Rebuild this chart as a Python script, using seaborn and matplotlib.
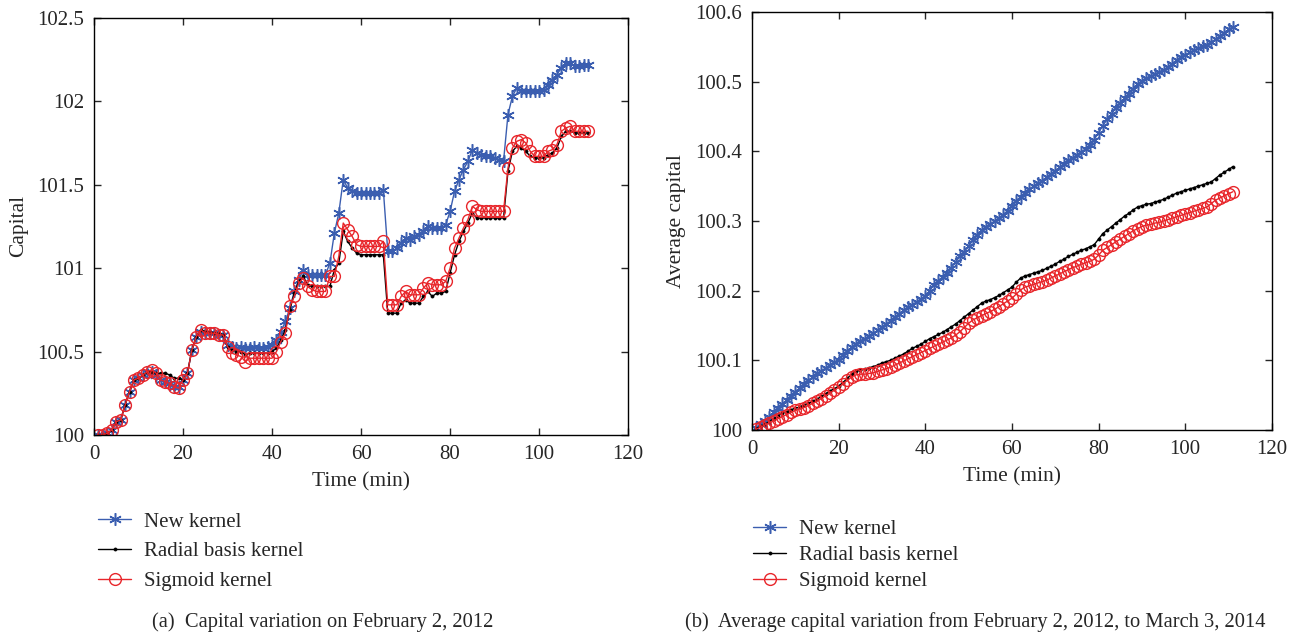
import numpy as np
import pandas as pd
import matplotlib
matplotlib.use("Agg")
import matplotlib.pyplot as plt
from matplotlib.ticker import FuncFormatter
import seaborn as sns

# ---- data -----------------------------------------------------------------
minutes = list(range(1, 112))

series_names = ["New kernel", "Radial basis kernel", "Sigmoid kernel"]

# (a) capital over one trading day
capital_new = [
    100.00, 100.00, 100.01, 100.03, 100.08, 100.09, 100.18, 100.26, 100.33, 100.34,
    100.36, 100.38, 100.38, 100.36, 100.33, 100.32, 100.31, 100.29, 100.29, 100.33,
    100.37, 100.51, 100.59, 100.62, 100.61, 100.61, 100.61, 100.60, 100.60, 100.54,
    100.53, 100.52, 100.53, 100.52, 100.52, 100.53, 100.52, 100.52, 100.53, 100.54,
    100.57, 100.62, 100.68, 100.76, 100.86, 100.93, 100.99, 100.96, 100.96, 100.96,
    100.96, 100.96, 101.03, 101.21, 101.33, 101.53, 101.48, 101.46, 101.45, 101.45,
    101.45, 101.45, 101.45, 101.45, 101.47, 101.10, 101.10, 101.12, 101.15, 101.18,
    101.17, 101.19, 101.20, 101.22, 101.25, 101.24, 101.24, 101.24, 101.26, 101.34,
    101.46, 101.53, 101.59, 101.64, 101.71, 101.69, 101.68, 101.67, 101.67, 101.66,
    101.65, 101.64, 101.92, 102.03, 102.08, 102.06, 102.06, 102.06, 102.06, 102.06,
    102.07, 102.10, 102.13, 102.16, 102.20, 102.23, 102.23, 102.21, 102.21, 102.22,
    102.22,
]
capital_rbf = [
    100.00, 100.00, 100.01, 100.03, 100.08, 100.09, 100.18, 100.26, 100.33, 100.34,
    100.36, 100.38, 100.38, 100.37, 100.37, 100.37, 100.36, 100.34, 100.34, 100.33,
    100.37, 100.51, 100.59, 100.63, 100.62, 100.62, 100.61, 100.61, 100.60, 100.53,
    100.51, 100.50, 100.50, 100.48, 100.49, 100.49, 100.49, 100.49, 100.49, 100.50,
    100.52, 100.57, 100.63, 100.75, 100.85, 100.92, 100.95, 100.90, 100.89, 100.89,
    100.89, 100.89, 100.89, 100.99, 101.03, 101.22, 101.16, 101.12, 101.09, 101.08,
    101.08, 101.08, 101.08, 101.08, 101.08, 100.73, 100.73, 100.73, 100.79, 100.81,
    100.79, 100.79, 100.79, 100.83, 100.86, 100.83, 100.85, 100.85, 100.86, 100.97,
    101.08, 101.16, 101.22, 101.27, 101.33, 101.30, 101.30, 101.30, 101.30, 101.30,
    101.30, 101.30, 101.58, 101.70, 101.73, 101.72, 101.70, 101.67, 101.66, 101.66,
    101.66, 101.68, 101.69, 101.72, 101.79, 101.82, 101.82, 101.81, 101.81, 101.81,
    101.81,
]
capital_sig = [
    100.00, 100.00, 100.01, 100.03, 100.08, 100.09, 100.18, 100.26, 100.33, 100.34,
    100.36, 100.38, 100.39, 100.37, 100.33, 100.32, 100.31, 100.29, 100.28, 100.33,
    100.37, 100.51, 100.59, 100.63, 100.61, 100.61, 100.61, 100.60, 100.60, 100.53,
    100.49, 100.48, 100.47, 100.44, 100.46, 100.46, 100.46, 100.46, 100.46, 100.46,
    100.50, 100.56, 100.61, 100.77, 100.83, 100.91, 100.94, 100.89, 100.87, 100.86,
    100.86, 100.86, 100.95, 100.95, 101.07, 101.27, 101.23, 101.19, 101.14, 101.13,
    101.13, 101.13, 101.13, 101.13, 101.16, 100.78, 100.78, 100.78, 100.83, 100.86,
    100.84, 100.84, 100.84, 100.88, 100.91, 100.90, 100.90, 100.90, 100.92, 101.00,
    101.12, 101.18, 101.24, 101.29, 101.37, 101.35, 101.34, 101.34, 101.34, 101.34,
    101.34, 101.34, 101.60, 101.72, 101.76, 101.77, 101.75, 101.70, 101.67, 101.67,
    101.67, 101.70, 101.71, 101.74, 101.82, 101.84, 101.85, 101.82, 101.82, 101.82,
    101.82,
]

# (b) average capital over the whole test period
avg_new = [
    100.003, 100.008, 100.013, 100.019, 100.025, 100.031, 100.037, 100.043, 100.049, 100.055,
    100.060, 100.066, 100.071, 100.076, 100.081, 100.085, 100.089, 100.093, 100.097, 100.101,
    100.107, 100.113, 100.119, 100.124, 100.128, 100.131, 100.135, 100.139, 100.143, 100.148,
    100.152, 100.157, 100.162, 100.167, 100.172, 100.176, 100.180, 100.184, 100.188, 100.192,
    100.200, 100.208, 100.214, 100.220, 100.226, 100.233, 100.241, 100.249, 100.256, 100.264,
    100.272, 100.280, 100.287, 100.292, 100.296, 100.300, 100.304, 100.309, 100.315, 100.322,
    100.329, 100.335, 100.340, 100.346, 100.350, 100.354, 100.358, 100.363, 100.368, 100.372,
    100.377, 100.382, 100.387, 100.391, 100.395, 100.399, 100.404, 100.409, 100.417, 100.427,
    100.437, 100.446, 100.454, 100.462, 100.469, 100.476, 100.483, 100.490, 100.497, 100.501,
    100.505, 100.508, 100.511, 100.514, 100.517, 100.521, 100.526, 100.531, 100.536, 100.539,
    100.542, 100.545, 100.548, 100.551, 100.553, 100.557, 100.561, 100.565, 100.570, 100.575,
    100.579,
]
avg_rbf = [
    100.002, 100.005, 100.008, 100.012, 100.016, 100.020, 100.024, 100.026, 100.029, 100.031,
    100.033, 100.036, 100.038, 100.041, 100.044, 100.048, 100.052, 100.056, 100.059, 100.063,
    100.068, 100.074, 100.080, 100.084, 100.086, 100.087, 100.089, 100.091, 100.093, 100.096,
    100.098, 100.100, 100.103, 100.106, 100.109, 100.113, 100.117, 100.120, 100.123, 100.127,
    100.131, 100.134, 100.137, 100.140, 100.144, 100.148, 100.152, 100.157, 100.162, 100.167,
    100.172, 100.177, 100.182, 100.185, 100.187, 100.190, 100.193, 100.197, 100.201, 100.205,
    100.212, 100.218, 100.221, 100.223, 100.225, 100.227, 100.229, 100.232, 100.235, 100.238,
    100.242, 100.245, 100.249, 100.252, 100.255, 100.258, 100.260, 100.263, 100.266, 100.274,
    100.282, 100.287, 100.292, 100.297, 100.302, 100.307, 100.311, 100.316, 100.320, 100.322,
    100.324, 100.325, 100.327, 100.329, 100.331, 100.334, 100.337, 100.340, 100.342, 100.344,
    100.346, 100.348, 100.350, 100.352, 100.354, 100.356, 100.361, 100.366, 100.370, 100.374,
    100.378,
]
avg_sig = [
    100.001, 100.004, 100.007, 100.010, 100.013, 100.016, 100.019, 100.022, 100.025, 100.028,
    100.030, 100.032, 100.035, 100.038, 100.041, 100.045, 100.049, 100.053, 100.057, 100.061,
    100.066, 100.071, 100.076, 100.079, 100.080, 100.080, 100.081, 100.082, 100.084, 100.086,
    100.088, 100.090, 100.093, 100.096, 100.099, 100.102, 100.105, 100.108, 100.111, 100.114,
    100.117, 100.120, 100.123, 100.126, 100.129, 100.132, 100.136, 100.141, 100.147, 100.153,
    100.158, 100.161, 100.164, 100.167, 100.170, 100.173, 100.177, 100.181, 100.185, 100.189,
    100.195, 100.201, 100.205, 100.207, 100.209, 100.211, 100.213, 100.215, 100.218, 100.221,
    100.224, 100.227, 100.230, 100.233, 100.235, 100.238, 100.240, 100.242, 100.245, 100.251,
    100.258, 100.262, 100.266, 100.270, 100.274, 100.278, 100.282, 100.286, 100.289, 100.292,
    100.294, 100.295, 100.297, 100.298, 100.300, 100.302, 100.304, 100.306, 100.308, 100.310,
    100.312, 100.314, 100.316, 100.318, 100.320, 100.325, 100.330, 100.333, 100.336, 100.339,
    100.342,
]

x_ticks = [0, 20, 40, 60, 80, 100, 120]
left_y_ticks = [100, 100.5, 101, 101.5, 102, 102.5]
right_y_ticks = [100, 100.1, 100.2, 100.3, 100.4, 100.5, 100.6]

# ---- style ----------------------------------------------------------------
sns.set_style("ticks")
plt.rcParams["font.family"] = ["Liberation Serif", "DejaVu Serif"]
plt.rcParams["font.size"] = 14
plt.rcParams["axes.linewidth"] = 1.0

BLUE = "#3b5eb0"
RED = "#e8262b"
BLACK = "#000000"

ASTERISK = (6, 2, 0)

styles = {
    "New kernel": dict(color=BLUE, marker=ASTERISK, markersize=9, markeredgewidth=1.1,
                       markeredgecolor=BLUE, markerfacecolor=BLUE, linewidth=1.0),
    "Radial basis kernel": dict(color=BLACK, marker=".", markersize=4.5,
                                markeredgecolor=BLACK, markerfacecolor=BLACK,
                                markeredgewidth=0.5, linewidth=1.0),
    "Sigmoid kernel": dict(color=RED, marker="o", markersize=8.5,
                           markerfacecolor="none", markeredgecolor=RED,
                           markeredgewidth=1.0, linewidth=1.0),
}


def long_table(values):
    frames = []
    for name, vals in zip(series_names, values):
        frames.append(pd.DataFrame({"t": minutes, "value": vals, "series": name}))
    return pd.concat(frames, ignore_index=True)


def draw(ax, table, y_ticks, ylabel):
    for name in series_names:
        sub = table[table["series"] == name]
        sns.lineplot(data=sub, x="t", y="value", ax=ax, label=name,
                     legend=False, **styles[name])
    ax.set_xlim(0, 120)
    ax.set_ylim(y_ticks[0], y_ticks[-1])
    ax.set_xticks(x_ticks)
    ax.set_yticks(y_ticks)
    ax.yaxis.set_major_formatter(FuncFormatter(lambda v, p: f"{v:g}"))
    ax.set_xlabel("Time (min)", fontsize=15.5, labelpad=6)
    ax.set_ylabel(ylabel, fontsize=15.5, labelpad=7)
    ax.tick_params(direction="in", top=True, right=True, length=5, width=1.0,
                   labelsize=15, pad=7)
    for side in ["top", "right", "left", "bottom"]:
        ax.spines[side].set_visible(True)
        ax.spines[side].set_color("black")


fig = plt.figure(figsize=(13.03, 6.35), dpi=100)
ax_a = fig.add_axes([0.0721, 0.315, 0.410, 0.657])
ax_b = fig.add_axes([0.5771, 0.323, 0.399, 0.658])

draw(ax_a, long_table([capital_new, capital_rbf, capital_sig]), left_y_ticks, "Capital")
draw(ax_b, long_table([avg_new, avg_rbf, avg_sig]), right_y_ticks, "Average capital")

legend_cfg = [(ax_a, (-0.008, -0.165), 0.48), (ax_b, (-0.014, -0.195), 0.31)]
for ax, anchor, spacing in legend_cfg:
    handles, labels = ax.get_legend_handles_labels()
    ax.legend(handles, labels, loc="upper left", bbox_to_anchor=anchor,
              frameon=False, fontsize=15, handlelength=1.6, handletextpad=0.6,
              labelspacing=spacing, borderaxespad=0)

fig.text(0.248, 0.004, "(a)  Capital variation on February 2, 2012",
         ha="center", va="bottom", fontsize=14.8)
fig.text(0.7487, 0.004,
         "(b)  Average capital variation from February 2, 2012, to March 3, 2014",
         ha="center", va="bottom", fontsize=14.8)

fig.savefig("out.png", dpi=100)
